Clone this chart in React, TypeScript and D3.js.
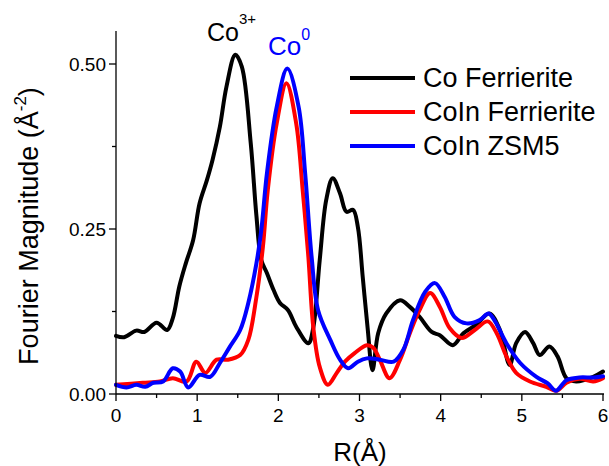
import React from "react";
import * as d3 from "d3";

const coFerR = [0, 0.1, 0.25, 0.35, 0.5, 0.63, 0.7, 0.78, 0.86, 0.95, 1.03, 1.12, 1.19, 1.28, 1.36, 1.47, 1.55, 1.66, 1.73, 1.79, 1.86, 1.94, 2.02, 2.12, 2.22, 2.37, 2.43, 2.51, 2.59, 2.67, 2.76, 2.84, 2.92, 2.98, 3.04, 3.1, 3.16, 3.23, 3.33, 3.5, 3.62, 3.74, 3.89, 3.99, 4.15, 4.28, 4.44, 4.6, 4.73, 4.85, 4.93, 5.04, 5.14, 5.22, 5.34, 5.44, 5.55, 5.67, 5.88, 6.0];
const coFerV = [0.088, 0.086, 0.096, 0.094, 0.108, 0.097, 0.115, 0.163, 0.198, 0.233, 0.289, 0.324, 0.355, 0.405, 0.465, 0.514, 0.496, 0.38, 0.27, 0.203, 0.183, 0.158, 0.138, 0.127, 0.102, 0.077, 0.1, 0.203, 0.294, 0.327, 0.304, 0.276, 0.279, 0.253, 0.177, 0.1, 0.036, 0.092, 0.122, 0.142, 0.132, 0.117, 0.094, 0.089, 0.074, 0.092, 0.105, 0.122, 0.097, 0.044, 0.077, 0.094, 0.077, 0.059, 0.072, 0.057, 0.024, 0.019, 0.026, 0.034];

const coInFerR = [0, 0.33, 0.54, 0.7, 0.87, 0.99, 1.1, 1.24, 1.38, 1.53, 1.63, 1.73, 1.81, 1.87, 1.98, 2.1, 2.22, 2.3, 2.37, 2.43, 2.51, 2.61, 2.72, 2.82, 2.94, 3.09, 3.17, 3.25, 3.37, 3.5, 3.62, 3.74, 3.87, 3.99, 4.11, 4.26, 4.42, 4.58, 4.69, 4.81, 4.93, 5.1, 5.3, 5.43, 5.55, 5.71, 5.88, 6.0];
const coInFerV = [0.014, 0.017, 0.019, 0.024, 0.019, 0.049, 0.032, 0.052, 0.052, 0.059, 0.082, 0.147, 0.223, 0.309, 0.41, 0.471, 0.41, 0.309, 0.208, 0.102, 0.041, 0.014, 0.032, 0.049, 0.062, 0.074, 0.07, 0.052, 0.024, 0.052, 0.092, 0.127, 0.153, 0.132, 0.1, 0.085, 0.097, 0.11, 0.092, 0.057, 0.032, 0.019, 0.011, 0.005, 0.017, 0.023, 0.019, 0.024];

const coInZsmR = [0, 0.13, 0.25, 0.36, 0.46, 0.58, 0.7, 0.79, 0.89, 1.03, 1.16, 1.28, 1.4, 1.53, 1.63, 1.73, 1.79, 1.86, 1.98, 2.11, 2.25, 2.33, 2.41, 2.49, 2.64, 2.76, 2.86, 2.98, 3.09, 3.25, 3.42, 3.54, 3.66, 3.81, 3.93, 4.05, 4.17, 4.32, 4.48, 4.59, 4.67, 4.81, 4.98, 5.18, 5.32, 5.42, 5.55, 5.71, 5.88, 6.0];
const coInZsmV = [0.014, 0.01, 0.014, 0.011, 0.017, 0.019, 0.039, 0.034, 0.01, 0.029, 0.026, 0.047, 0.071, 0.097, 0.138, 0.198, 0.248, 0.335, 0.435, 0.493, 0.435, 0.335, 0.208, 0.127, 0.082, 0.052, 0.039, 0.049, 0.054, 0.052, 0.049, 0.067, 0.112, 0.155, 0.168, 0.147, 0.117, 0.107, 0.112, 0.122, 0.11, 0.077, 0.047, 0.026, 0.016, 0.005, 0.021, 0.025, 0.025, 0.027];

const seriesNames = ["Co Ferrierite", "CoIn Ferrierite", "CoIn ZSM5"];
const seriesColors = ["#000000", "#ff0000", "#0000ff"];
const xTicks = [0, 1, 2, 3, 4, 5, 6];
const xMinorTicks = [0.5, 1.5, 2.5, 3.5, 4.5, 5.5];
const yTicks = [0, 0.25, 0.5];
const yTickLabels = ["0.00", "0.25", "0.50"];
const yMinorTicks = [0.125, 0.375];

const FONT = "'Liberation Sans', Arial, sans-serif";

export default function App() {
  const W = 609, H = 466;
  const x = d3.scaleLinear().domain([0, 6]).range([116, 603]);
  const y = d3.scaleLinear().domain([0, 0.55]).range([394, 31]);
  const line = d3
    .line<[number, number]>()
    .x((d) => x(d[0]))
    .y((d) => y(d[1]))
    .curve(d3.curveCatmullRom.alpha(0.5));

  const series = [
    d3.zip(coFerR, coFerV) as [number, number][],
    d3.zip(coInFerR, coInFerV) as [number, number][],
    d3.zip(coInZsmR, coInZsmV) as [number, number][],
  ];

  const [x0, x1] = x.range();
  const [yb, yt] = y.range();

  return (
    <svg width={W} height={H} style={{ position: "absolute", left: 0, top: 0, background: "#fff" }} fontFamily={FONT}>
      <rect x={0} y={0} width={W} height={H} fill="#fff" />
      {series.map((s, i) => (
        <path key={i} d={line(s) || ""} fill="none" stroke={seriesColors[i]} strokeWidth={4} strokeLinejoin="round" strokeLinecap="round" />
      ))}
      {/* axes */}
      <line x1={x0} x2={x0} y1={yb} y2={yt} stroke="#000" strokeWidth={1.3} />
      <line x1={x0} x2={x1 + 1} y1={yb} y2={yb} stroke="#000" strokeWidth={1.3} />
      {xTicks.map((t) => (
        <g key={"x" + t}>
          <line x1={x(t)} x2={x(t)} y1={yb} y2={yb + 7} stroke="#000" strokeWidth={1.3} />
          <text x={x(t)} y={422} fontSize={19} textAnchor="middle">{t}</text>
        </g>
      ))}
      {xMinorTicks.map((t) => (
        <line key={"xm" + t} x1={x(t)} x2={x(t)} y1={yb} y2={yb + 4} stroke="#000" strokeWidth={1.3} />
      ))}
      {yTicks.map((t, i) => (
        <g key={"y" + t}>
          <line x1={x0 - 7} x2={x0} y1={y(t)} y2={y(t)} stroke="#000" strokeWidth={1.3} />
          <text x={106} y={y(t) + 7} fontSize={19} textAnchor="end">{yTickLabels[i]}</text>
        </g>
      ))}
      {yMinorTicks.map((t) => (
        <line key={"ym" + t} x1={x0 - 4} x2={x0} y1={y(t)} y2={y(t)} stroke="#000" strokeWidth={1.3} />
      ))}
      {/* axis titles */}
      <text x={360} y={461} fontSize={26} textAnchor="middle">R(Å)</text>
      <text transform="translate(38,226) rotate(-90)" fontSize={27} textAnchor="middle">
        Fourier Magnitude (Å<tspan fontSize={17} dy={-12}>-2</tspan><tspan dy={12}>)</tspan>
      </text>
      {/* peak labels */}
      <text x={207} y={41} fontSize={25} fill="#000">
        Co<tspan fontSize={15} dy={-17}>3+</tspan>
      </text>
      <text x={268} y={55} fontSize={26} fill="#0000ff">
        Co<tspan fontSize={16} dy={-15}>0</tspan>
      </text>
      {/* legend */}
      {seriesNames.map((n, i) => (
        <g key={n}>
          <line x1={350} x2={415} y1={78 + i * 34} y2={78 + i * 34} stroke={seriesColors[i]} strokeWidth={4} />
          <text x={423} y={87 + i * 34} fontSize={27}>{n}</text>
        </g>
      ))}
    </svg>
  );
}
